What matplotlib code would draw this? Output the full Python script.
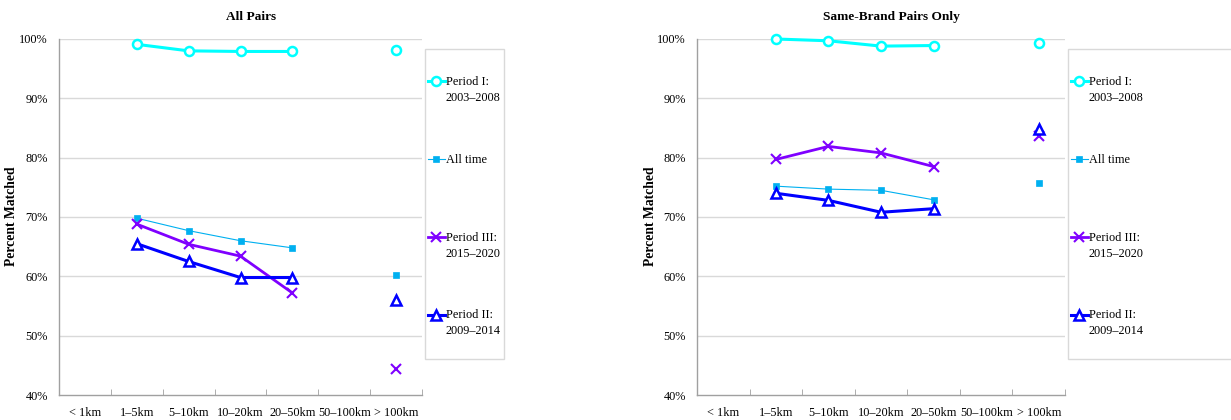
import numpy as np
import matplotlib
matplotlib.use("Agg")
import matplotlib.pyplot as plt
from matplotlib.legend_handler import HandlerLine2D
from matplotlib.patches import Rectangle

plt.rcParams['font.family'] = ['Liberation Serif', 'DejaVu Serif']

nan = np.nan
categories = ['< 1km', '1\u20135km', '5\u201310km', '10\u201320km', '20\u201350km', '50\u2013100km', '> 100km']

# All Pairs
p1_all = [nan, 99.1, 98.0, 97.9, 97.9, nan, 98.1]
at_all = [nan, 69.8, 67.7, 66.0, 64.8, nan, 60.2]
p3_all = [nan, 68.8, 65.4, 63.4, 57.2, nan, 44.3]
p2_all = [nan, 65.5, 62.5, 59.8, 59.8, nan, 56.0]

# Same-Brand Pairs Only
p1_sb = [nan, 100.0, 99.7, 98.8, 98.9, nan, 99.4]
at_sb = [nan, 75.2, 74.7, 74.5, 72.9, nan, 75.8]
p3_sb = [nan, 79.7, 81.9, 80.8, 78.5, nan, 83.6]
p2_sb = [nan, 74.0, 72.8, 70.8, 71.4, nan, 84.9]

labels = ['Period I:\n2003\u20132008', 'All time\n ', 'Period III:\n2015\u20132020', 'Period II:\n2009\u20132014']
yticks = [40, 50, 60, 70, 80, 90, 100]

W, H = 1231, 420
fig = plt.figure(figsize=(W / 100, H / 100), dpi=100)

FS = 8.8


class FirstLineHandler(HandlerLine2D):
    """Legend handle drawn level with the first line of a two-line label."""

    def __init__(self, shift, **kw):
        super().__init__(**kw)
        self.shift = shift

    def create_artists(self, legend, orig_handle, xdescent, ydescent, width,
                       height, fontsize, trans):
        arts = super().create_artists(legend, orig_handle, xdescent, ydescent,
                                      width, height, fontsize, trans)
        for a in arts:
            a.set_ydata(np.asarray(a.get_ydata(), dtype=float) + self.shift * fontsize)
        return arts


def px(x, y):
    return (x / W, 1 - y / H)


def draw_panel(ax_rect, title, title_x, ylabel_x, series, legend_box):
    ax = fig.add_axes(ax_rect)
    x = np.arange(len(categories))
    styles = [
        dict(color='#00FFFF', lw=2.2, marker='o', ms=6.5, mfc='white', mew=1.8),
        dict(color='#00B0F0', lw=0.8, marker='s', ms=5, mfc='#00B0F0', mew=0.5),
        dict(color='#7F00FF', lw=2.0, marker='x', ms=7, mew=1.5),
        dict(color='#0000FF', lw=2.2, marker='^', ms=6.5, mfc='white', mew=1.8),
    ]
    handles = []
    for vals, st, lab in zip(series, styles, labels):
        h, = ax.plot(x, vals, label=lab, clip_on=False, zorder=3, **st)
        handles.append(h)
    ax.set_xlim(-0.5, len(categories) - 0.5)
    ax.set_ylim(40, 100)
    ax.set_yticks(yticks)
    ax.set_yticklabels([f'{v}%' for v in yticks], fontsize=FS)
    ax.set_xticks(x)
    ax.set_xticklabels(categories, fontsize=FS)
    ax.set_xticks(np.arange(len(categories) + 1) - 0.5, minor=True)
    ax.tick_params(axis='x', which='major', length=0, pad=9)
    ax.tick_params(axis='x', which='minor', length=4, direction='in', color='#a0a0a0')
    ax.tick_params(axis='y', length=0, pad=8)
    for v in yticks[1:]:
        ax.axhline(v, color='#d9d9d9', lw=1.0, zorder=1)
    for s in ['top', 'right']:
        ax.spines[s].set_visible(False)
    for s in ['left', 'bottom']:
        ax.spines[s].set_color('#a0a0a0')
        ax.spines[s].set_linewidth(1.0)
    fig.text(title_x / W, 1 - 17 / H, title, ha='center', va='center',
             fontsize=9.6, fontweight='bold')
    fig.text(ylabel_x / W, 1 - 216 / H, 'Percent Matched', ha='center', va='center',
             rotation=90, fontsize=9.8, fontweight='bold')
    # legend frame
    lx0, ly0, lx1, ly1 = legend_box
    fig.patches.append(Rectangle(px(lx0, ly1), (lx1 - lx0) / W, (ly1 - ly0) / H,
                                 transform=fig.transFigure, facecolor='white',
                                 edgecolor='#d9d9d9', lw=1.0, zorder=0))
    hmap = {h: FirstLineHandler(0.72, numpoints=1) for h in handles}
    leg = fig.legend(handles=handles, loc='upper left',
                     bbox_to_anchor=px(lx0 + 3, 76), bbox_transform=fig.transFigure,
                     frameon=False, fontsize=FS, borderpad=0, borderaxespad=0,
                     handlelength=1.35, handletextpad=0.1, labelspacing=4.07,
                     handler_map=hmap)
    for t in leg.get_texts():
        t.set_linespacing(1.45)
    return ax


draw_panel([59 / W, 1 - 395 / H, (422 - 59) / W, (395 - 39) / H], 'All Pairs', 251, 12,
           [p1_all, at_all, p3_all, p2_all], (425, 49, 504, 359))
draw_panel([697 / W, 1 - 395 / H, (1065 - 697) / W, (395 - 39) / H], 'Same-Brand Pairs Only', 891, 650,
           [p1_sb, at_sb, p3_sb, p2_sb], (1068, 49, 1250, 359))

fig.savefig('out.png', dpi=100)
